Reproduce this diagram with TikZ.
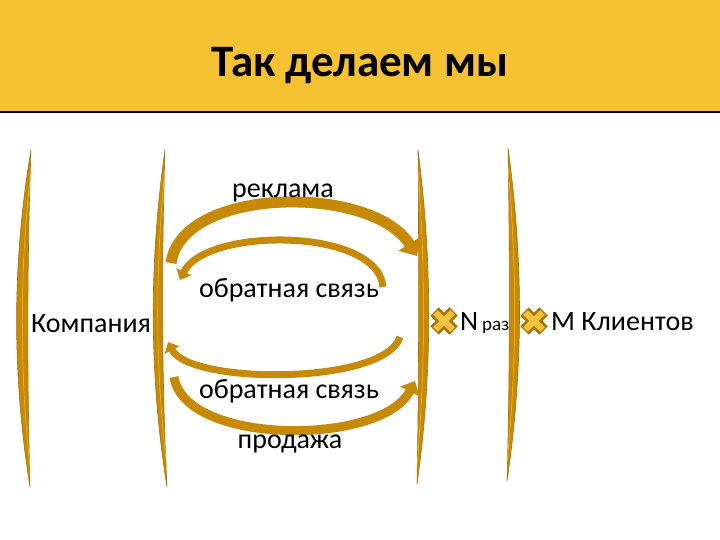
\documentclass[tikz,border=0pt]{standalone}
\usepackage{fontspec}
\setmainfont{Carlito}
\usetikzlibrary{arrows.meta}
\definecolor{banner}{RGB}{247,193,52}
\definecolor{gold}{RGB}{198,138,8}
\definecolor{goldlight}{RGB}{242,194,60}
\definecolor{golddark}{RGB}{170,114,4}
\def \brA{ (31,150) .. controls (12,262) and (12,375) .. (30,487) .. controls (27,375) and (27,262) .. (31,150) }
\def \brB{ (165,150) .. controls (149,262) and (149,375) .. (167,487) .. controls (161.5,375) and (161.5,262) .. (165,150) }
\def \brC{ (418,150) .. controls (432.5,262) and (432.5,375) .. (417,484) .. controls (419,375) and (419,262) .. (418,150) }
\def \brD{ (508,148) .. controls (523.5,260) and (523.5,370) .. (507,481) .. controls (510,370) and (510,260) .. (508,148) }
\def \goldX#1{ \draw[xout] (#1) ++(-9.5,-9.5) -- ++(19,19) (#1) ++(-9.5,9.5) -- ++(19,-19);
  \draw[xin] (#1) ++(-8.5,-8.5) -- ++(17,17) (#1) ++(-8.5,8.5) -- ++(17,-17); }

\begin{document}
\begin{tikzpicture}[x=1pt,y=-1pt,
    lbl/.style={font=\fontsize{28}{28}\selectfont,anchor=base,inner sep=0pt},
    goldarc/.style={draw=gold,line width=#1,-{Triangle[length=0pt 1.3,width=0pt 2.3]}},
    xout/.style={draw=golddark,line width=12pt},
    xin/.style={draw=goldlight,line width=6.5pt}]

    \useasboundingbox (0,0) rectangle (720,540);
    \fill[banner] (0,0) rectangle (720,112);
    \draw[line width=1.5pt] (0,112) -- (720,112);
    \node[font=\bfseries\fontsize{45}{45}\selectfont,anchor=base] (title) at (360,77) {Так делаем мы};

    % brackets
    \filldraw[fill=gold,draw=golddark,line width=.6pt] \brA;
    \filldraw[fill=gold,draw=golddark,line width=.6pt] \brB;
    \filldraw[fill=gold,draw=golddark,line width=.6pt] \brC;
    \filldraw[fill=gold,draw=golddark,line width=.6pt] \brD;
    \draw[goldlight,line width=.5pt] (31,170) .. controls (19.5,270) and (19.5,368) .. (30,468);
    \draw[goldlight,line width=.5pt] (165,170) .. controls (155,270) and (155,368) .. (167,468);
    \draw[goldlight,line width=.5pt] (418,170) .. controls (425.5,270) and (425.5,368) .. (417,466);
    \draw[goldlight,line width=.5pt] (508,168) .. controls (517,266) and (517,364) .. (507,462);

    % ends of the arrows
    \coordinate (adS) at (171,263);
    \coordinate (adE) at (417,256);
    \coordinate (fbS) at (383,287);
    \coordinate (fbE) at (180,280);
    \coordinate (rbS) at (400,337);
    \coordinate (rbE) at (168,342);
    \coordinate (slS) at (174,377);
    \coordinate (slE) at (415,381);

    \draw[goldarc=11pt] (adS) .. controls (182,186) and (372,184) .. (adE);
    \draw[goldarc=7pt] (fbS) .. controls (378,227) and (205,227) .. (fbE);
    \draw[goldarc=7pt] (rbS) .. controls (385,385) and (190,385) .. (rbE);
    \draw[goldarc=9pt] (slS) .. controls (185,446) and (382,446) .. (slE);

    \node[lbl] (ads) at (283,197) {реклама};
    \node[lbl] (fbup) at (289,297) {обратная связь};
    \node[lbl] (fbdown) at (289,398) {обратная связь};
    \node[lbl] (sale) at (290,448) {продажа};
    \node[lbl] (company) at (91,332) {Компания};

    \coordinate (x1) at (444,321);
    \coordinate (x2) at (534,321);
    \goldX{x1}
    \goldX{x2}
    \node[lbl,anchor=base west] (nrep) at (460,330) {N};
    \node[font=\fontsize{19}{19}\selectfont,anchor=base west,inner sep=0pt] (ntimes) at (482,330) {раз};
    \node[lbl,anchor=base west] (clients) at (551,330) {М Клиентов};

\end{tikzpicture}
\end{document}
